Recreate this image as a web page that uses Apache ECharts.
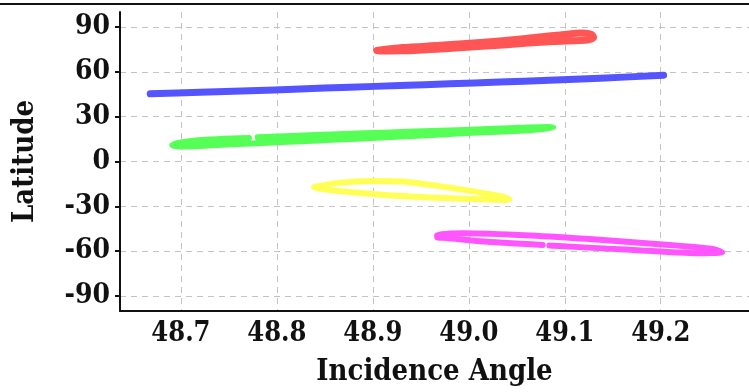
<!DOCTYPE html>
<html><head><meta charset="utf-8">
<script src="https://cdn.jsdelivr.net/npm/echarts@6/dist/echarts.min.js"></script>
<style>html,body{margin:0;padding:0;background:#fff}#c{width:749px;height:392px}</style>
</head><body><div id="c"></div>
<script>
// Tick labels
const xTicks = [48.7, 48.8, 48.9, 49.0, 49.1, 49.2];
const yTicks = [-90, -60, -30, 0, 30, 60, 90];

// Series values: [incidence angle, latitude]
const redPts = [[48.904,74.3],[48.931,76.2],[48.970,77.7],[49.001,79.1],[49.038,81.0],[49.071,83.1],[49.095,84.7],[49.119,86.0],[49.128,85.0],[49.130,83.0],[49.124,81.3],[49.088,80.3],[49.036,78.0],[48.983,75.8],[48.931,74.0],[48.907,73.9]];
const bluePts = [[48.668,45.3],[48.720,46.3],[48.772,47.3],[48.824,48.5],[48.876,49.7],[48.928,50.8],[48.980,52.0],[49.032,53.1],[49.084,54.3],[49.137,55.7],[49.203,57.7]];
const greenPts = [[48.771,15.8],[48.718,14.3],[48.691,11.3],[48.691,10.7],[48.701,10.0],[48.753,11.5],[48.805,13.0],[48.857,14.5],[48.909,16.0],[48.962,17.8],[49.014,19.5],[49.066,21.1],[49.088,22.7],[49.082,23.1],[49.043,22.3],[48.996,21.1],[48.944,20.0],[48.892,18.9],[48.834,17.5],[48.780,16.2]];
const yellowPts = [[48.839,-17.0],[48.864,-14.3],[48.899,-13.1],[48.933,-13.5],[48.968,-16.3],[49.003,-19.8],[49.032,-23.0],[49.042,-25.0],[49.038,-25.7],[49.020,-25.5],[48.968,-24.2],[48.916,-22.5],[48.864,-19.8],[48.843,-18.0],[48.839,-17.0]];
const magentaPts = [[49.084,-56.2],[49.168,-59.1],[49.238,-61.3],[49.264,-60.7],[49.254,-58.5],[49.202,-55.5],[49.133,-52.2],[49.064,-49.5],[48.994,-48.0],[48.967,-49.0],[48.967,-50.7],[48.977,-51.1],[49.012,-53.3],[49.077,-55.8]];

const FONT = '"DejaVu Serif Condensed", "DejaVu Serif", serif';
const chart = echarts.init(document.getElementById('c'), null, {renderer: 'canvas'});

function band(data, color, w) {
  return {
    type: 'line', data: data, showSymbol: false, smooth: 0.25,
    connectNulls: false, animation: false,
    lineStyle: {color: color, width: w, cap: 'round', join: 'round'},
    silent: true
  };
}

chart.setOption({
  animation: false,
  backgroundColor: '#fff',
  graphic: [{
    type: 'line', shape: {x1: 0, y1: 4, x2: 749, y2: 4},
    style: {stroke: '#111', lineWidth: 2}
  }],
  grid: {left: 120, right: 0, top: 12, bottom: 81},
  xAxis: {
    type: 'value', min: 48.6365, max: 49.292,
    name: 'Incidence Angle', nameLocation: 'middle', nameGap: 47,
    nameTextStyle: {fontFamily: FONT, fontWeight: 'bold', fontSize: 29, color: '#111'},
    axisLine: {show: true, onZero: false, lineStyle: {color: '#111', width: 2}},
    axisTick: {show: false, customValues: xTicks},
    axisLabel: {customValues: xTicks, fontFamily: FONT, fontWeight: 'bold', fontSize: 27, color: '#111', margin: 9,
      formatter: v => v.toFixed(1)},
    splitLine: {show: true, lineStyle: {color: '#c4c4c4', type: [6, 5], width: 1}}
  },
  yAxis: {
    type: 'value', min: -100, max: 100,
    name: 'Latitude', nameLocation: 'middle', nameGap: 80, nameRotate: 90,
    nameTextStyle: {fontFamily: FONT, fontWeight: 'bold', fontSize: 29, color: '#111'},
    axisLine: {show: true, onZero: false, lineStyle: {color: '#111', width: 2}},
    axisTick: {show: true, customValues: yTicks, length: 5, lineStyle: {color: '#111', width: 2}},
    axisLabel: {customValues: yTicks, fontFamily: FONT, fontWeight: 'bold', fontSize: 28, color: '#111', margin: 10},
    splitLine: {show: true, lineStyle: {color: '#c4c4c4', type: [6, 5], width: 1}}
  },
  series: [
    band(redPts, '#ff5555', 7),
    band(bluePts, '#5555ff', 7),
    band(greenPts, '#55ff55', 6),
    band(yellowPts, '#ffff55', 6),
    band(magentaPts, '#ff55ff', 6)
  ]
});
</script></body></html>
